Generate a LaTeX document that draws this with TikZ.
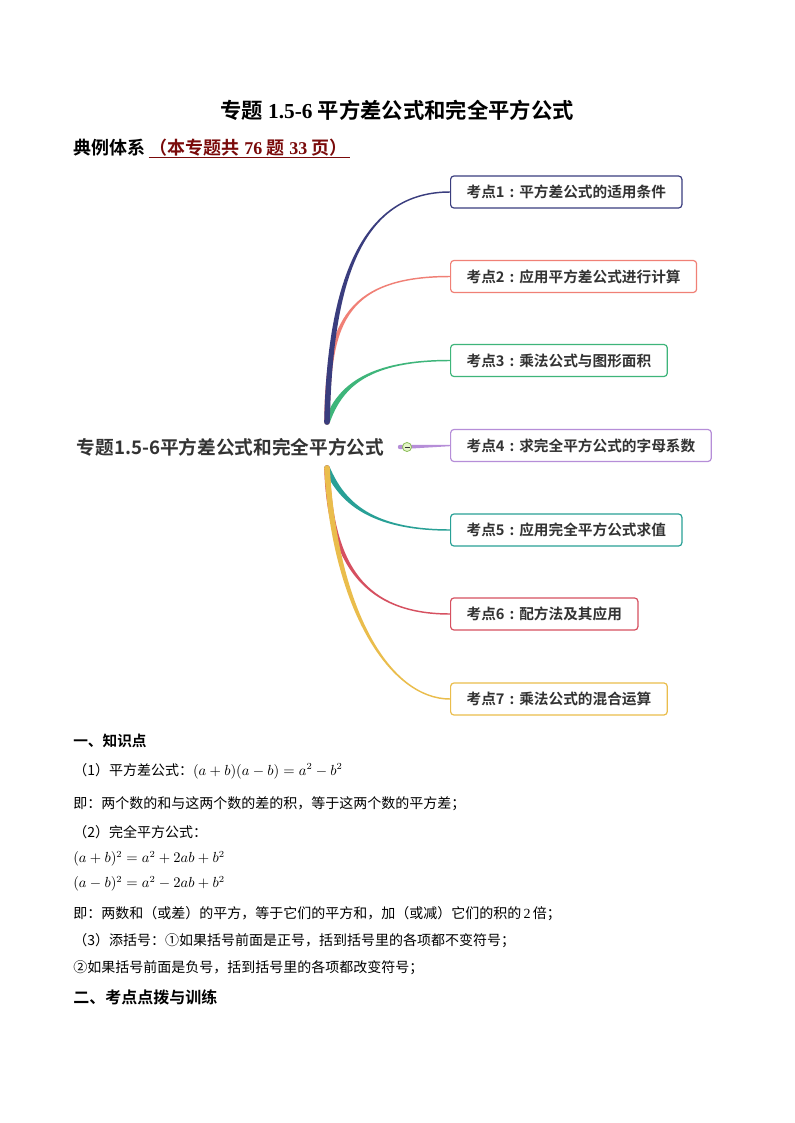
\documentclass[tikz,border=0pt]{standalone}
\usepackage{fontspec}
\setmainfont{Liberation Serif}
\newfontfamily\cjk{Noto Sans CJK SC}[BoldFont={Noto Sans CJK SC Bold}]
\usetikzlibrary{calc, backgrounds, positioning}
\definecolor{cText}{RGB}{51,51,51}
\definecolor{cRed}{RGB}{122,10,10}
\definecolor{cNavy}{RGB}{58,61,126}
\definecolor{cSalmon}{RGB}{240,128,118}
\definecolor{cGreen}{RGB}{62,181,122}
\definecolor{cPurple}{RGB}{182,142,216}
\definecolor{cTeal}{RGB}{40,160,150}
\definecolor{cRose}{RGB}{214,80,96}
\definecolor{cYellow}{RGB}{234,189,76}
\definecolor{cFoldFill}{RGB}{228,244,200}
\definecolor{cFoldLine}{RGB}{140,190,90}

% centred colon of the topic boxes
\newcommand{\kc}{\makebox[1em][c]{:}}
% tapered branch: colour, start, first control, x offset of second control, end
\newcommand{\branch}[5]{%
  \coordinate (cc) at ($(#5)+(#4,0)$);
  \fill[#1] ($(#2)!2.1pt!90:(#3)$) .. controls ($(#3)!2.1pt!-90:(#2)$) and ($(cc)!0.55pt!90:(#5)$) .. ($(#5)!0.55pt!-90:(cc)$)
    -- ($(#5)!0.55pt!90:(cc)$) .. controls ($(cc)!0.55pt!-90:(#5)$) and ($(#3)!2.1pt!90:(#2)$) .. ($(#2)!2.1pt!-90:(#3)$) -- cycle;
  \fill[#1] (#2) circle (2.1pt);}

\begin{document}
\begin{tikzpicture}[x=0.75pt, y=-0.75pt,
    title/.style={inner sep=0pt, font=\bfseries\fontsize{16}{19}\selectfont},
    head/.style={inner sep=0pt, anchor=west, font=\bfseries\fontsize{13.5}{16}\selectfont},
    root/.style={inner sep=0pt, text=cText, font=\cjk\bfseries\fontsize{14}{17}\selectfont},
    kd/.style={draw=#1, line width=0.9pt, rounded corners=2.5pt, fill=white, anchor=west,
      minimum height=24pt, inner xsep=12pt, inner ysep=0pt, text=cText,
      font=\cjk\bfseries\fontsize{11}{13}\selectfont},
    fold/.style={circle, draw=cFoldLine, fill=cFoldFill, line width=0.6pt, minimum size=6.8pt, inner sep=0pt},
    txt/.style={inner sep=0pt, anchor=west, font=\cjk\fontsize{10.5}{13}\selectfont},
    sec/.style={inner sep=0pt, anchor=west, font=\cjk\bfseries\fontsize{11}{13}\selectfont}]
  \path[use as bounding box] (0,0) rectangle (794,1123);

  % heading
  \node[title] (ttl) at (397,110) {{\cjk 专题} 1.5-6 {\cjk 平方差公式和完全平方公式}};
  \node[head] (dl) at (73,148) {\cjk 典例体系};
  \node[head, text=cRed, right=3pt of dl] (qz) {{\cjk （本专题共} 76 {\cjk 题} 33 {\cjk 页）}};
  \draw[cRed, line width=0.9pt] ($(qz.base west)+(-1,3)$) -- ($(qz.base east)+(2,3)$);

  % mind map
  \node[root] (root) at (230.5,447) {专题1.5-6平方差公式和完全平方公式};
  \coordinate (up) at (327,422);
  \coordinate (dn) at (327,468);
  \coordinate (p4) at (400,447);
  \node[kd=cNavy] (k1) at (450,192) {考点1\kc 平方差公式的适用条件};
  \node[kd=cSalmon] (k2) at (450,276.5) {考点2\kc 应用平方差公式进行计算};
  \node[kd=cGreen] (k3) at (450,360.5) {考点3\kc 乘法公式与图形面积};
  \node[kd=cPurple] (k4) at (450,445.5) {考点4\kc 求完全平方公式的字母系数};
  \node[kd=cTeal] (k5) at (450,530) {考点5\kc 应用完全平方公式求值};
  \node[kd=cRose] (k6) at (450,614) {考点6\kc 配方法及其应用};
  \node[kd=cYellow] (k7) at (450,699) {考点7\kc 乘法公式的混合运算};
  \begin{scope}[on background layer]
    \fill[white] (0,0) rectangle (794,1123);
    \branch{cGreen}{up}{340,385}{-80}{k3.west}
    \branch{cSalmon}{up}{328,330}{-110}{k2.west}
    \branch{cNavy}{up}{330,284}{-90}{k1.west}
    \branch{cTeal}{dn}{342,503}{-78}{k5.west}
    \branch{cRose}{dn}{330,565}{-85}{k6.west}
    \branch{cYellow}{dn}{335,610}{-60}{k7.west}
    \fill[cPurple] ($(p4)+(0,-2.2)$) -- ($(k4.west)+(0,-0.7)$) -- ($(k4.west)+(0,0.7)$) -- ($(p4)+(0,2.2)$) -- cycle;
    \fill[cPurple] (p4) circle (1.65pt);
  \end{scope}
  \node[fold] (fd) at (407,447) {};
  \draw[cText, line width=0.6pt] ($(fd.center)+(-2.5,0)$) -- ($(fd.center)+(2.5,0)$);

  % knowledge points
  \node[sec] (s1) at (73,741) {一、知识点};
  \node[txt] (l1) at (73,771) {（1）平方差公式：$(a+b)(a-b)=a^2-b^2$};
  \node[txt] (l2) at (73,804) {即：两个数的和与这两个数的差的积，等于这两个数的平方差；};
  \node[txt] (l3) at (73,832) {（2）完全平方公式：};
  \node[txt] (l4) at (73,859) {$(a+b)^2=a^2+2ab+b^2$};
  \node[txt] (l5) at (73,884) {$(a-b)^2=a^2-2ab+b^2$};
  \node[txt] (l6) at (73,914) {即：两数和（或差）的平方，等于它们的平方和，加（或减）它们的积的{\rmfamily\,2\,}倍；};
  \node[txt] (l7) at (73,941) {（3）添括号：①如果括号前面是正号，括到括号里的各项都不变符号；};
  \node[txt] (l8) at (73,968) {②如果括号前面是负号，括到括号里的各项都改变符号；};
  \node[sec, font=\cjk\bfseries\fontsize{12}{14}\selectfont] (s2) at (73,997) {二、考点点拨与训练};
\end{tikzpicture}
\end{document}
